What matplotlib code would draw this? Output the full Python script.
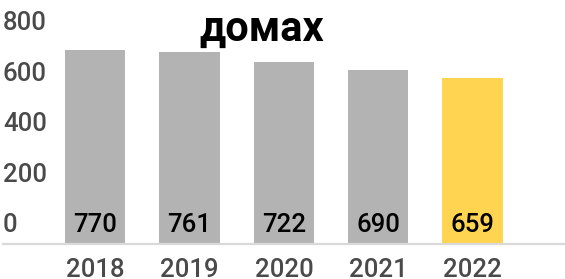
import matplotlib
matplotlib.use("Agg")
import matplotlib.pyplot as plt
import matplotlib.transforms as mtransforms

plt.rcParams['font.family'] = ['Roboto', 'DejaVu Sans']

# данные
anios = ["2018", "2019", "2020", "2021", "2022"]
valores = [770, 761, 722, 690, 659]
colores = ["#b3b3b3", "#b3b3b3", "#b3b3b3", "#b3b3b3", "#ffd451"]
marcas_y = [0, 200, 400, 600, 800]
titulo = "домах"

fig = plt.figure(figsize=(5.65, 2.79), dpi=100)
ax = fig.add_axes([0.005, 0.1254, 0.995, 0.724])

x = list(range(len(anios)))
ax.bar(x, valores, width=0.64, color=colores, zorder=2)
ax.set_xlim(-0.98, 4.98)
ax.set_ylim(0, 800)

# linea base
ax.axhline(0, color="#d9d9d9", linewidth=1.6, zorder=3, clip_on=False)

for s in ax.spines.values():
    s.set_visible(False)
ax.set_yticks([])
ax.set_xticks(x)
ax.set_xticklabels(anios, fontsize=18.5, color="#4a4a4a", fontweight="medium")
ax.tick_params(axis="x", length=0, pad=10)

# etiquetas del eje y dentro del area, arriba de su posicion
trans = mtransforms.blended_transform_factory(ax.transAxes, ax.transData)
for m in marcas_y:
    ax.annotate(str(m), xy=(0, m), xycoords=trans, xytext=(0, 5),
                textcoords="offset points", ha="left", va="bottom",
                fontsize=18.5, color="#4a4a4a", fontweight="medium",
                annotation_clip=False)

# valores dentro de las barras
for xi, v in zip(x, valores):
    ax.annotate(str(v), xy=(xi, 0), xytext=(0, 5), textcoords="offset points",
                ha="center", va="bottom", fontsize=18.5, color="black",
                fontweight="medium", zorder=4)

fig.text(0.463, 0.855, titulo, ha="center", va="baseline", fontsize=30,
         fontweight="bold", color="black")

fig.savefig("out.png", dpi=100)
